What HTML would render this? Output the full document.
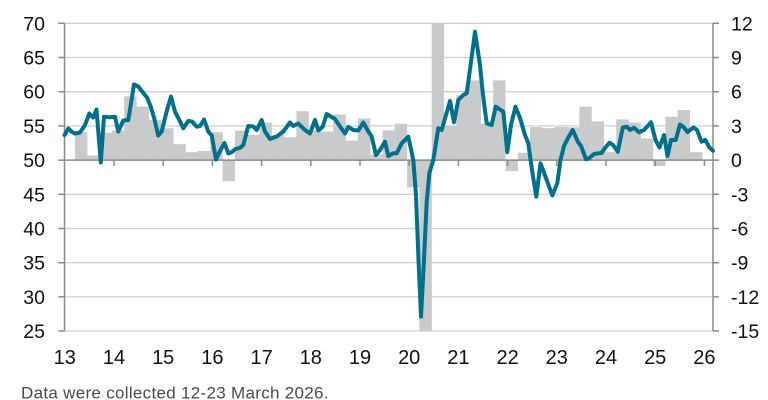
<!DOCTYPE html>
<html>
<head>
<meta charset="utf-8">
<style>
  html,body{margin:0;padding:0;background:#fff;}
  body{width:768px;height:400px;overflow:hidden;}
  svg{display:block;}
  .lab{font-family:"Liberation Sans",Arial,sans-serif;font-size:19.5px;fill:#111;}
  .foot{font-family:"Liberation Sans",Arial,sans-serif;font-size:17px;letter-spacing:0.3px;fill:#4a4a4a;}
</style>
</head>
<body>
<svg width="768" height="400" viewBox="0 0 768 400" xmlns="http://www.w3.org/2000/svg">
  <g stroke="#d0d0d0" stroke-width="1.3">
    <line x1="64.5" y1="23.3" x2="713" y2="23.3"/>
    <line x1="64.5" y1="57.5" x2="713" y2="57.5"/>
    <line x1="64.5" y1="91.7" x2="713" y2="91.7"/>
    <line x1="64.5" y1="125.9" x2="713" y2="125.9"/>
    <line x1="64.5" y1="194.3" x2="713" y2="194.3"/>
    <line x1="64.5" y1="228.5" x2="713" y2="228.5"/>
    <line x1="64.5" y1="262.7" x2="713" y2="262.7"/>
    <line x1="64.5" y1="296.9" x2="713" y2="296.9"/>
    <line x1="64.5" y1="331" x2="713" y2="331"/>
  </g>
  <g fill="#c9cacc">
    <rect x="75" y="132.2" width="12.4" height="27.9"/>
    <rect x="87.3" y="155.5" width="12.4" height="4.6"/>
    <rect x="99.6" y="132.8" width="12.4" height="27.3"/>
    <rect x="111.9" y="130.5" width="12.4" height="29.6"/>
    <rect x="124.2" y="96.3" width="12.4" height="63.8"/>
    <rect x="136.5" y="106.6" width="12.4" height="53.5"/>
    <rect x="148.8" y="120.2" width="12.4" height="39.9"/>
    <rect x="161.1" y="128.2" width="12.4" height="31.9"/>
    <rect x="173.4" y="144.2" width="12.4" height="15.9"/>
    <rect x="185.7" y="152.1" width="12.4" height="8"/>
    <rect x="198" y="151" width="12.4" height="9.1"/>
    <rect x="210.3" y="132.2" width="12.4" height="27.9"/>
    <rect x="222.6" y="160.1" width="12.4" height="21.1"/>
    <rect x="234.9" y="130.5" width="12.4" height="29.6"/>
    <rect x="247.2" y="135" width="12.4" height="25.1"/>
    <rect x="259.5" y="122.5" width="12.4" height="37.6"/>
    <rect x="271.8" y="135" width="12.4" height="25.1"/>
    <rect x="284.1" y="137.3" width="12.4" height="22.8"/>
    <rect x="296.4" y="111.1" width="12.4" height="49"/>
    <rect x="308.7" y="130.5" width="12.4" height="29.6"/>
    <rect x="321" y="131.6" width="12.4" height="28.5"/>
    <rect x="333.3" y="114.5" width="12.4" height="45.6"/>
    <rect x="345.6" y="140.7" width="12.4" height="19.4"/>
    <rect x="357.9" y="118.5" width="12.4" height="41.6"/>
    <rect x="370.2" y="154.4" width="12.4" height="5.7"/>
    <rect x="382.5" y="130.5" width="12.4" height="29.6"/>
    <rect x="394.8" y="123.7" width="12.4" height="36.4"/>
    <rect x="407.1" y="160.1" width="12.4" height="27.3"/>
    <rect x="419.4" y="160.1" width="12.4" height="170.9"/>
    <rect x="431.7" y="23.3" width="12.4" height="136.8"/>
    <rect x="444" y="125.9" width="12.4" height="34.2"/>
    <rect x="456.3" y="95.2" width="12.4" height="64.9"/>
    <rect x="468.6" y="80.4" width="12.4" height="79.7"/>
    <rect x="480.9" y="123.7" width="12.4" height="36.4"/>
    <rect x="493.2" y="80.4" width="12.4" height="79.7"/>
    <rect x="505.5" y="160.1" width="12.4" height="11"/>
    <rect x="517.8" y="152.8" width="12.4" height="7.3"/>
    <rect x="530.1" y="127.1" width="12.4" height="33"/>
    <rect x="542.4" y="128.2" width="12.4" height="31.9"/>
    <rect x="554.7" y="127.1" width="12.4" height="33"/>
    <rect x="567" y="127.4" width="12.4" height="32.7"/>
    <rect x="579.3" y="106.6" width="12.4" height="53.5"/>
    <rect x="591.6" y="121.4" width="12.4" height="38.7"/>
    <rect x="603.9" y="152.1" width="12.4" height="8"/>
    <rect x="616.2" y="119.4" width="12.4" height="40.7"/>
    <rect x="628.5" y="122.5" width="12.4" height="37.6"/>
    <rect x="640.8" y="138.5" width="12.4" height="21.6"/>
    <rect x="653.1" y="160.1" width="12.4" height="6"/>
    <rect x="665.4" y="116.8" width="12.4" height="43.3"/>
    <rect x="677.7" y="110" width="12.4" height="50.1"/>
    <rect x="690" y="152.1" width="12.4" height="8"/>
  </g>
  <g stroke="#8a8a8a" stroke-width="1.5" fill="none">
    <line x1="64.5" y1="23.3" x2="64.5" y2="331"/>
    <line x1="713" y1="23.3" x2="713" y2="331"/>
    <line x1="64.5" y1="160.1" x2="713" y2="160.1"/>
    <path d="M58.3 23.3H64.5M58.3 57.5H64.5M58.3 91.7H64.5M58.3 125.9H64.5M58.3 160.1H64.5M58.3 194.3H64.5M58.3 228.5H64.5M58.3 262.7H64.5M58.3 296.9H64.5M58.3 331H64.5"/>
    <path d="M713 23.3H719M713 57.5H719M713 91.7H719M713 125.9H719M713 160.1H719M713 194.3H719M713 228.5H719M713 262.7H719M713 296.9H719M713 331H719"/>
    <path d="M114 160V166M163.2 160V166M212.4 160V166M261.6 160V166M310.8 160V166M360 160V166M409.2 160V166M458.4 160V166M507.6 160V166M556.8 160V166M606 160V166M655.2 160V166M704.4 160V166"/>
  </g>
  <polyline fill="none" stroke="#00708b" stroke-width="4" stroke-linejoin="round" stroke-linecap="round"
    points="64.5,135 68.3,128.5 72,132 75,133.5 80,132.5 85,125 89.3,113.5 93.3,117.5 96.5,109.5 100.8,162.5 104,116.7 110,117.2 115,116.8 118.3,131.5 123.3,120.5 128.3,120 134,84.5 138.3,86.5 142.5,92 147,97.5 150.5,106 154,117.5 158.3,135.5 161.7,131.5 166.5,112 171,96.5 175,111.7 179,119.5 183.3,128.3 188.3,121 192,121.5 196.7,126.7 200,126 204,119.5 208.3,131.7 211.7,135.5 216,159.5 220,151 224.5,143 228.3,153.5 232,152 235.5,149 240,147.8 243.3,145 248.3,126 253.3,126.5 256.7,130 261.7,120 265,131.5 270,139 276.7,136.5 283.3,131.5 290,122.5 293.3,126 298.3,123.5 305,130 310,133.5 315,120 318.3,130.5 322.7,126.7 326.7,114 335,119 340,126.5 345,133.5 348.3,127 353.3,130 358.3,130.5 363.3,122.5 368.3,131.5 371.5,136 376,155 380,150 385,141.7 388.3,156 393.3,153.3 396.7,153.3 401.7,143.3 408.3,136.7 413.3,160 416,195 418.5,260 421,316.7 424,260 426.7,201.7 429.3,173.3 433.3,160 438.3,128.3 441.7,130 446,115 450,101 454,122.3 458.3,100 463.3,95 466.7,93.3 471,62 475,31.7 480,65 483,95 486.7,123.3 491.7,125 495.7,106.7 503.3,111.7 507.3,152 511,125 515.5,106.7 520,118 525,135 528.3,143.3 532,170 536.3,196.7 540.5,163.3 546,178 552.3,195.5 557.3,183.3 560.5,160 564,146 568,138 572.7,130 578,142 581,146 586,159.3 589,158.3 594,154 599,153.3 601.7,153 605,148 609.5,142.7 613,145 617.8,151.7 622.8,127.5 626.7,126.7 630,130 634,127.7 639,132.3 644,130 651,122.3 655.5,140 659.5,147.5 664,135 667.5,156 671,140 675.7,140 680,124.5 684,127.5 687.5,132 693.5,127.5 697,130 701.5,141.7 705.3,140 709.5,147.5 713,150.7"/>
  <g class="lab" text-anchor="end">
    <text x="45" y="30.3">70</text>
    <text x="45" y="64.5">65</text>
    <text x="45" y="98.7">60</text>
    <text x="45" y="132.9">55</text>
    <text x="45" y="167.1">50</text>
    <text x="45" y="201.3">45</text>
    <text x="45" y="235.5">40</text>
    <text x="45" y="269.7">35</text>
    <text x="45" y="303.9">30</text>
    <text x="45" y="338">25</text>
  </g>
  <g class="lab" text-anchor="start">
    <text x="731" y="30.3">12</text>
    <text x="731" y="64.5">9</text>
    <text x="731" y="98.7">6</text>
    <text x="731" y="132.9">3</text>
    <text x="731" y="167.1">0</text>
    <text x="731" y="201.3">-3</text>
    <text x="731" y="235.5">-6</text>
    <text x="731" y="269.7">-9</text>
    <text x="731" y="303.9">-12</text>
    <text x="731" y="338">-15</text>
  </g>
  <g class="lab" text-anchor="middle" style="font-size:20px">
    <text x="64.8" y="364">13</text>
    <text x="114" y="364">14</text>
    <text x="163.2" y="364">15</text>
    <text x="212.4" y="364">16</text>
    <text x="261.6" y="364">17</text>
    <text x="310.8" y="364">18</text>
    <text x="360" y="364">19</text>
    <text x="409.2" y="364">20</text>
    <text x="458.4" y="364">21</text>
    <text x="507.6" y="364">22</text>
    <text x="556.8" y="364">23</text>
    <text x="606" y="364">24</text>
    <text x="655.2" y="364">25</text>
    <text x="704.4" y="364">26</text>
  </g>
  <text class="foot" x="21" y="398.5">Data were collected 12-23 March 2026.</text>
</svg>
</body>
</html>
